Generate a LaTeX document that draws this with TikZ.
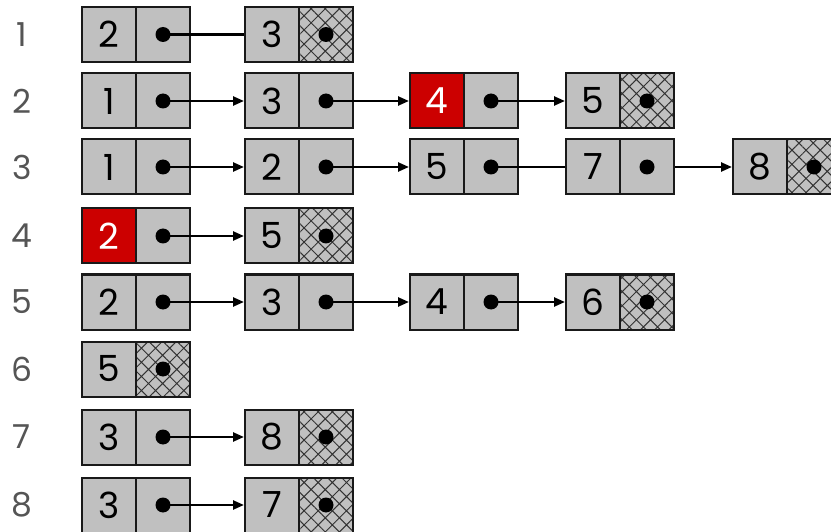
\documentclass[tikz,border=0pt]{standalone}
\usepackage{fontspec}
\setmainfont{Poppins}
\usetikzlibrary{arrows.meta,patterns.meta}
\definecolor{cellgray}{HTML}{C0C0C0}
\definecolor{cellred}{HTML}{CC0000}
\definecolor{labelgray}{HTML}{555555}
\newcommand\mknode[5]{%
  \node[#5] (#1) at (#2+27,#3) {#4};
  \node[cell] (#1p) at (#2+81,#3) {};
  \node[dot] (#1d) at (#1p) {};}
\newcommand\mknil[5]{%
  \node[#5] (#1) at (#2+27,#3) {#4};
  \node[nilcell] (#1p) at (#2+81,#3) {};
  \node[dot] (#1d) at (#1p) {};}
\begin{document}
\begin{tikzpicture}[x=1pt,y=-1pt,
  cell/.style={draw=black!90, line width=2pt, fill=cellgray, minimum width=54pt,
    minimum height=55pt, inner sep=0pt, font=\fontsize{36}{36}\selectfont, text=black},
  redcell/.style={cell, fill=cellred, text=white},
  nilcell/.style={cell, postaction={pattern={Hatch[angle=45,distance=10pt,line width=1pt]},
    pattern color=black!80}, postaction={draw=black!90, line width=2pt}},
  dot/.style={circle, fill=black, minimum size=15pt, inner sep=0pt},
  rowlabel/.style={font=\fontsize{33}{33}\selectfont, text=labelgray},
  link/.style={line width=2.4pt, -{Triangle[length=11pt,width=9pt]}},
  plain/.style={line width=2.4pt}]
\useasboundingbox (0,0) rectangle (831,532);
% row labels
\foreach \n/\y in {1/34.5,2/101,3/167,4/236,5/302,6/369,7/437,8/505}
  \node[rowlabel] (lab\n) at (22,\y) {\n};
% row 1
\mknode{ra}{82}{34.5}{2}{cell}
\mknil{rb}{245}{34.5}{3}{cell}
\draw[plain] (rad.center) -- (rb.west);
% row 2
\mknode{sa}{82}{101}{1}{cell}
\mknode{sb}{245}{101}{3}{cell}
\mknode{sc}{410}{101}{4}{redcell}
\mknil{sd}{566}{101}{5}{cell}
\draw[link] (sad.center) -- (sb.west);
\draw[link] (sbd.center) -- (sc.west);
\draw[link] (scd.center) -- (sd.west);
% row 3
\mknode{ta}{82}{167}{1}{cell}
\mknode{tb}{245}{167}{2}{cell}
\mknode{tc}{410}{167}{5}{cell}
\mknode{td}{566}{167}{7}{cell}
\mknil{te}{733}{167}{8}{cell}
\draw[link] (tad.center) -- (tb.west);
\draw[link] (tbd.center) -- (tc.west);
\draw[plain] (tcd.center) -- (td.west);
\draw[link] (tdp.east) -- (te.west);
% row 4
\mknode{ua}{82}{236}{2}{redcell}
\mknil{ub}{245}{236}{5}{cell}
\draw[link] (uad.center) -- (ub.west);
% row 5
\mknode{va}{82}{302}{2}{cell}
\mknode{vb}{245}{302}{3}{cell}
\mknode{vc}{410}{302}{4}{cell}
\mknil{vd}{566}{302}{6}{cell}
\draw[link] (vad.center) -- (vb.west);
\draw[link] (vbd.center) -- (vc.west);
\draw[link] (vcd.center) -- (vd.west);
% row 6
\mknil{wa}{82}{369}{5}{cell}
% row 7
\mknode{xa}{82}{437}{3}{cell}
\mknil{xb}{245}{437}{8}{cell}
\draw[link] (xad.center) -- (xb.west);
% row 8
\mknode{ya}{82}{505}{3}{cell}
\mknil{yb}{245}{505}{7}{cell}
\draw[link] (yad.center) -- (yb.west);
\end{tikzpicture}
\end{document}
